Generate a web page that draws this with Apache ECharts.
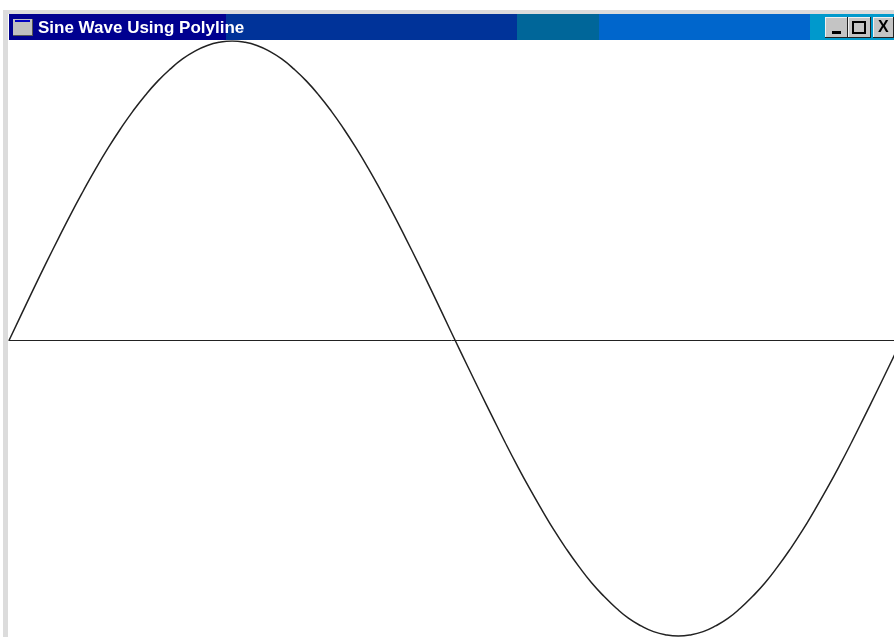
<!DOCTYPE html>
<html>
<head>
<meta charset="utf-8">
<style>html,body{margin:0;padding:0;background:#fff}#chart{width:894px;height:637px}</style>
<script src="https://cdn.jsdelivr.net/npm/echarts@6/dist/echarts.min.js"></script>
</head>
<body>
<div id="chart"></div>
<script>
var windowTitle = 'Sine Wave Using Polyline';
var angles = [0,5,10,15,20,25,30,35,40,45,50,55,60,65,70,75,80,85,90,
  95,100,105,110,115,120,125,130,135,140,145,150,155,160,165,170,175,180,
  185,190,195,200,205,210,215,220,225,230,235,240,245,250,255,260,265,270,
  275,280,285,290,295,300,305,310,315,320,325,330,335,340,345,350,355,360];
var waveValues = [0,0.087,0.174,0.259,0.342,0.423,0.5,0.574,0.643,0.707,0.766,0.819,0.866,0.906,0.94,0.966,0.985,0.996,1,
  0.996,0.985,0.966,0.94,0.906,0.866,0.819,0.766,0.707,0.643,0.574,0.5,0.423,0.342,0.259,0.174,0.087,0,
  -0.086,-0.171,-0.255,-0.338,-0.418,-0.494,-0.566,-0.635,-0.698,-0.756,-0.809,-0.854,-0.894,-0.928,-0.953,-0.972,-0.983,-0.987,
  -0.983,-0.972,-0.953,-0.928,-0.894,-0.854,-0.809,-0.756,-0.698,-0.635,-0.566,-0.494,-0.418,-0.338,-0.255,-0.171,-0.086,0];

var myChart = echarts.init(document.getElementById('chart'));

function box(x, y, w, h, color) {
  return {type: 'rect', silent: true, shape: {x: x, y: y, width: w, height: h}, style: {fill: color}};
}
// title bar colour steps
function band(x, w, color) {
  return box(x, 14, w, 26, color);
}
// raised window button: dark right and bottom edge
function button(x, w) {
  return {type: 'group', silent: true, children: [
    box(x, 17, w, 21, '#222'),
    box(x, 17, w - 1, 20, '#f0f0f0'),
    box(x + 1, 18, w - 2, 19, '#c4c4c4')
  ]};
}

var points = angles.map(function (a, i) { return [a, waveValues[i]]; });

myChart.setOption({
  animation: false,
  title: {
    text: windowTitle, left: 33, top: 15,
    textStyle: {color: '#fff', fontFamily: 'Liberation Sans', fontWeight: 'bold', fontSize: 17}
  },
  grid: {left: 9, right: 0, top: 41, bottom: 0},
  xAxis: {
    type: 'value', min: 0, max: 357,
    axisLine: {show: true, onZero: true, lineStyle: {color: '#222', width: 1}},
    axisTick: {show: false}, axisLabel: {show: false}, splitLine: {show: false}
  },
  yAxis: {
    type: 'value', min: -0.99, max: 1,
    axisLine: {show: false}, axisTick: {show: false}, axisLabel: {show: false}, splitLine: {show: false}
  },
  series: [{
    type: 'line', data: points, smooth: true, showSymbol: false, clip: true,
    lineStyle: {color: '#222', width: 1.5}
  }],
  graphic: [
    box(3, 10, 891, 4, '#dcdcdc'),
    box(3, 10, 5, 627, '#dcdcdc'),
    band(9, 217, '#000090'),
    band(226, 291, '#003399'),
    band(517, 82, '#006699'),
    band(599, 211, '#0066cc'),
    band(810, 84, '#0099cc'),
    box(13, 19, 20, 17, '#555'),
    box(13, 19, 19, 16, '#c0c0c0'),
    box(15, 20, 15, 2, '#0000c0'),
    button(825, 23), button(848, 23), button(873, 21),
    box(832, 31, 9, 3, '#000'),
    {type: 'rect', silent: true, shape: {x: 853, y: 22, width: 12, height: 11}, style: {fill: 'none', stroke: '#000', lineWidth: 2}},
    {type: 'text', silent: true, x: 878, y: 20, style: {text: 'X', fill: '#000', font: 'bold 16px "Liberation Sans"'}}
  ]
});
</script>
</body>
</html>
